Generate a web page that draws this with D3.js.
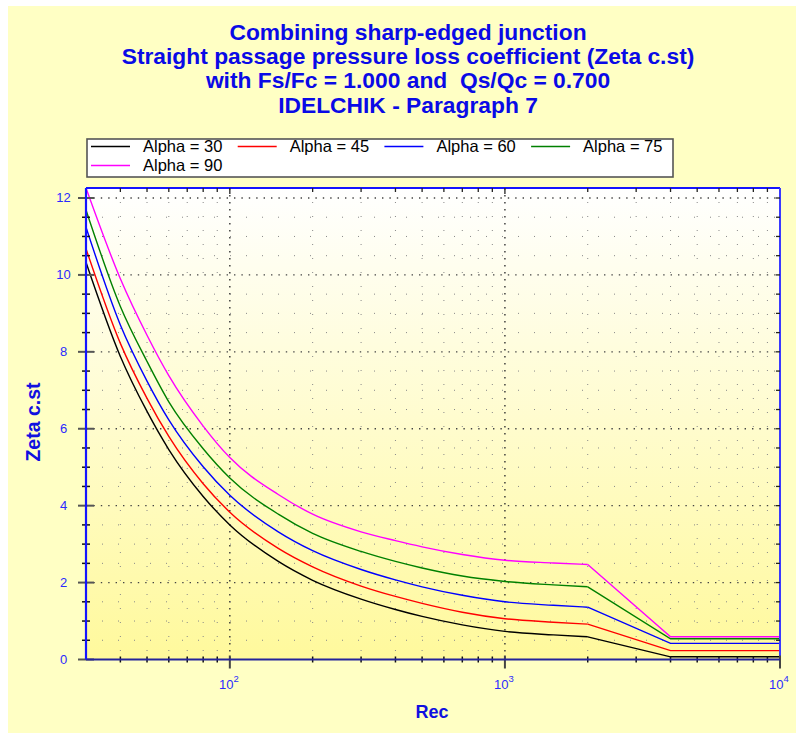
<!DOCTYPE html>
<html>
<head>
<meta charset="utf-8">
<script src="https://cdn.jsdelivr.net/npm/d3@7"></script>
<style>
	body { margin: 0; background: #fff; }
	svg { display: block; font-family: "Liberation Sans", Arial, sans-serif; }
	text { white-space: pre; }
</style>
</head>
<body>
<svg id="chart" width="796" height="733"></svg>
<script>
// values
const titleLines = [
	"Combining sharp-edged junction",
	"Straight passage pressure loss coefficient (Zeta c.st)",
	"with Fs/Fc = 1.000 and  Qs/Qc = 0.700",
	"IDELCHIK - Paragraph 7"
];
const reValues = [30, 40, 50, 60, 80, 100, 150, 200, 300, 400, 500, 700, 1000, 1500, 2000, 4000, 10000];
const alpha30 = [10.33, 7.88, 6.45, 5.46, 4.24, 3.50, 2.55, 2.06, 1.57, 1.30, 1.12, 0.90, 0.73, 0.64, 0.59, 0.07, 0.07];
const alpha45 = [10.68, 8.22, 6.79, 5.80, 4.57, 3.83, 2.89, 2.41, 1.91, 1.64, 1.46, 1.23, 1.06, 0.97, 0.92, 0.23, 0.23];
const alpha60 = [11.24, 8.70, 7.24, 6.23, 5.01, 4.27, 3.32, 2.83, 2.34, 2.07, 1.89, 1.67, 1.50, 1.41, 1.36, 0.42, 0.42];
const alpha75 = [11.69, 9.18, 7.75, 6.70, 5.48, 4.72, 3.78, 3.28, 2.81, 2.55, 2.38, 2.17, 2.03, 1.94, 1.89, 0.54, 0.54];
const alpha90 = [12.26, 9.90, 8.43, 7.38, 6.07, 5.25, 4.29, 3.78, 3.32, 3.09, 2.93, 2.73, 2.58, 2.51, 2.47, 0.59, 0.59];
const seriesNames = ["Alpha = 30", "Alpha = 45", "Alpha = 60", "Alpha = 75", "Alpha = 90"];
const seriesColors = ["#000000", "#ff0000", "#0000ff", "#008000", "#ff00ff"];
const yLabels = [0, 2, 4, 6, 8, 10, 12];
const xDecades = [100, 1000, 10000];
const laminarEnd = 2000; // curves are smooth up to here, straight after

const series = [alpha30, alpha45, alpha60, alpha75, alpha90].map((vals, i) => ({
	name: seriesNames[i],
	color: seriesColors[i],
	points: reValues.map((re, j) => ({ re: re, z: vals[j] }))
}));

const svg = d3.select("#chart");
const plot = { left: 86, right: 780, top: 188, bottom: 659.5 };

const x = d3.scaleLog().domain([30, 10000]).range([plot.left, plot.right]);
const y = d3.scaleLinear().domain([0, 12.26]).range([plot.bottom, plot.top]);

// backgrounds
svg.append("rect")
	.attr("x", 8).attr("y", 6)
	.attr("width", 788).attr("height", 727)
	.attr("fill", "#ffffc4");

const defs = svg.append("defs");
const grad = defs.append("linearGradient")
	.attr("id", "plotFill")
	.attr("x1", 0).attr("y1", 0).attr("x2", 0).attr("y2", 1);
grad.append("stop").attr("offset", 0).attr("stop-color", "#ffffff");
grad.append("stop").attr("offset", 1).attr("stop-color", "#fff99c");

defs.append("clipPath").attr("id", "plotClip")
	.append("rect")
	.attr("x", plot.left).attr("y", plot.top - 1)
	.attr("width", plot.right - plot.left).attr("height", plot.bottom - plot.top + 2);

svg.append("rect")
	.attr("x", plot.left).attr("y", plot.top)
	.attr("width", plot.right - plot.left).attr("height", plot.bottom - plot.top)
	.attr("fill", "url(#plotFill)");

// title
svg.append("g")
	.selectAll("text")
	.data(titleLines)
	.enter()
	.append("text")
	.attr("x", 408)
	.attr("y", (d, i) => 40 + i * 24.2)
	.attr("text-anchor", "middle")
	.attr("font-size", 22.8)
	.attr("font-weight", "bold")
	.attr("fill", "#0a0ae6")
	.text(d => d);

// grid
const xTicks = x.ticks();
const isDecade = v => Math.abs(Math.log10(v) - Math.round(Math.log10(v))) < 1e-9;
const yTicks = d3.range(0, y.domain()[1] + 1e-9, 0.5);
const isMajorY = v => Math.abs(v % 2) < 1e-9;

const grid = svg.append("g").attr("clip-path", "url(#plotClip)");
grid.selectAll("line.vgrid")
	.data(xTicks.filter(d => d > 30 && d < 10000))
	.enter()
	.append("line")
	.attr("x1", d => x(d)).attr("x2", d => x(d))
	.attr("y1", plot.top).attr("y2", plot.bottom)
	.attr("stroke", d => isDecade(d) ? "#333" : "#888")
	.attr("stroke-width", d => isDecade(d) ? 1.4 : 1)
	.attr("stroke-dasharray", d => isDecade(d) ? "1.4,5.6" : "1,13");
grid.selectAll("line.hgrid")
	.data(yTicks.filter(d => d > 0))
	.enter()
	.append("line")
	.attr("x1", plot.left).attr("x2", plot.right)
	.attr("y1", d => y(d)).attr("y2", d => y(d))
	.attr("stroke", d => isMajorY(d) ? "#444" : "#888")
	.attr("stroke-width", d => isMajorY(d) ? 1.4 : 1)
	.attr("stroke-dasharray", d => isMajorY(d) ? "1.4,6" : "1,15");

// curves
const smooth = d3.line()
	.x(d => x(d.re))
	.y(d => y(d.z))
	.curve(d3.curveMonotoneX);
const straight = d3.line()
	.x(d => x(d.re))
	.y(d => y(d.z));

const curves = svg.append("g").attr("clip-path", "url(#plotClip)");
series.forEach(s => {
	curves.append("path")
		.attr("d", smooth(s.points.filter(p => p.re <= laminarEnd)))
		.attr("fill", "none")
		.attr("stroke", s.color)
		.attr("stroke-width", 1.4);
	curves.append("path")
		.attr("d", straight(s.points.filter(p => p.re >= laminarEnd)))
		.attr("fill", "none")
		.attr("stroke", s.color)
		.attr("stroke-width", 1.4);
});

// axes frame
const frame = svg.append("g");
frame.append("line")
	.attr("x1", plot.left).attr("x2", plot.right)
	.attr("y1", plot.top).attr("y2", plot.top)
	.attr("stroke", "#1414ff").attr("stroke-width", 2);
frame.append("line")
	.attr("x1", plot.right).attr("x2", plot.right)
	.attr("y1", plot.top).attr("y2", plot.bottom)
	.attr("stroke", "#3a3aff").attr("stroke-width", 2);

// ticks: left
frame.selectAll("line.ytickL")
	.data(yTicks)
	.enter()
	.append("line")
	.attr("x1", d => isMajorY(d) ? plot.left - 8 : plot.left - 4)
	.attr("x2", d => isMajorY(d) ? plot.left + 8 : plot.left + 4)
	.attr("y1", d => y(d)).attr("y2", d => y(d))
	.attr("stroke", d => isMajorY(d) ? "#555" : "#111")
	.attr("stroke-width", d => isMajorY(d) ? 2 : 1.5);
// ticks: right
frame.selectAll("line.ytickR")
	.data(yTicks.filter(d => d > 0))
	.enter()
	.append("line")
	.attr("x1", plot.right - 4).attr("x2", plot.right)
	.attr("y1", d => y(d)).attr("y2", d => y(d))
	.attr("stroke", "#222").attr("stroke-width", 1.3);
// ticks: top
frame.selectAll("line.xtickT")
	.data(xTicks.filter(d => d > 30 && d < 10000))
	.enter()
	.append("line")
	.attr("x1", d => x(d)).attr("x2", d => x(d))
	.attr("y1", plot.top).attr("y2", d => isDecade(d) ? plot.top + 6 : plot.top + 4)
	.attr("stroke", "#222").attr("stroke-width", 1.3);
// ticks: bottom
frame.selectAll("line.xtickB")
	.data(xTicks.filter(d => d > 30))
	.enter()
	.append("line")
	.attr("x1", d => x(d)).attr("x2", d => x(d))
	.attr("y1", d => isDecade(d) ? plot.bottom - 4 : plot.bottom - 3)
	.attr("y2", d => isDecade(d) ? plot.bottom + 9 : plot.bottom + 3)
	.attr("stroke", d => isDecade(d) ? "#444" : "#111")
	.attr("stroke-width", d => isDecade(d) ? 2 : 1.5);

frame.append("line")
	.attr("x1", plot.left).attr("x2", plot.right)
	.attr("y1", plot.bottom).attr("y2", plot.bottom)
	.attr("stroke", "#24249a").attr("stroke-width", 2.2);
frame.append("line")
	.attr("x1", plot.left).attr("x2", plot.left)
	.attr("y1", plot.top).attr("y2", plot.bottom)
	.attr("stroke", "#1414ff").attr("stroke-width", 2.2);

// tick labels
svg.append("g")
	.selectAll("text")
	.data(yLabels)
	.enter()
	.append("text")
	.attr("x", 63.5)
	.attr("y", d => y(d) + 4.5)
	.attr("text-anchor", "middle")
	.attr("font-size", 13)
	.attr("fill", "#2a2aff")
	.text(d => d);

const xLab = svg.append("g")
	.selectAll("text")
	.data(xDecades)
	.enter()
	.append("text")
	.attr("x", d => x(d) - 1)
	.attr("y", 689)
	.attr("text-anchor", "middle")
	.attr("font-size", 13)
	.attr("fill", "#2a2aff");
xLab.append("tspan").text("10");
xLab.append("tspan")
	.attr("dy", -7)
	.attr("font-size", 9.5)
	.text(d => Math.round(Math.log10(d)));

// axis titles
svg.append("text")
	.attr("x", 432).attr("y", 718)
	.attr("text-anchor", "middle")
	.attr("font-size", 18)
	.attr("font-weight", "bold")
	.attr("fill", "#1010e0")
	.text("Rec");
svg.append("text")
	.attr("transform", "translate(40,422) rotate(-90)")
	.attr("text-anchor", "middle")
	.attr("font-size", 19.5)
	.attr("font-weight", "bold")
	.attr("fill", "#1010e0")
	.text("Zeta c.st");

// legend
const legend = svg.append("g");
legend.append("rect")
	.attr("x", 87).attr("y", 139)
	.attr("width", 586).attr("height", 38)
	.attr("fill", "#fff")
	.attr("stroke", "#555")
	.attr("stroke-width", 1.6);
const perRow = 4;
const items = legend.selectAll("g.item")
	.data(series)
	.enter()
	.append("g")
	.attr("transform", (d, i) => `translate(${91 + (i % perRow) * 146.7},${146.5 + Math.floor(i / perRow) * 19})`);
items.append("line")
	.attr("x1", 0).attr("x2", 39)
	.attr("y1", 0).attr("y2", 0)
	.attr("stroke", d => d.color)
	.attr("stroke-width", 1.3);
items.append("text")
	.attr("x", 52).attr("y", 5.8)
	.attr("font-size", 16.5)
	.attr("fill", "#000")
	.text(d => d.name);
</script>
</body>
</html>
